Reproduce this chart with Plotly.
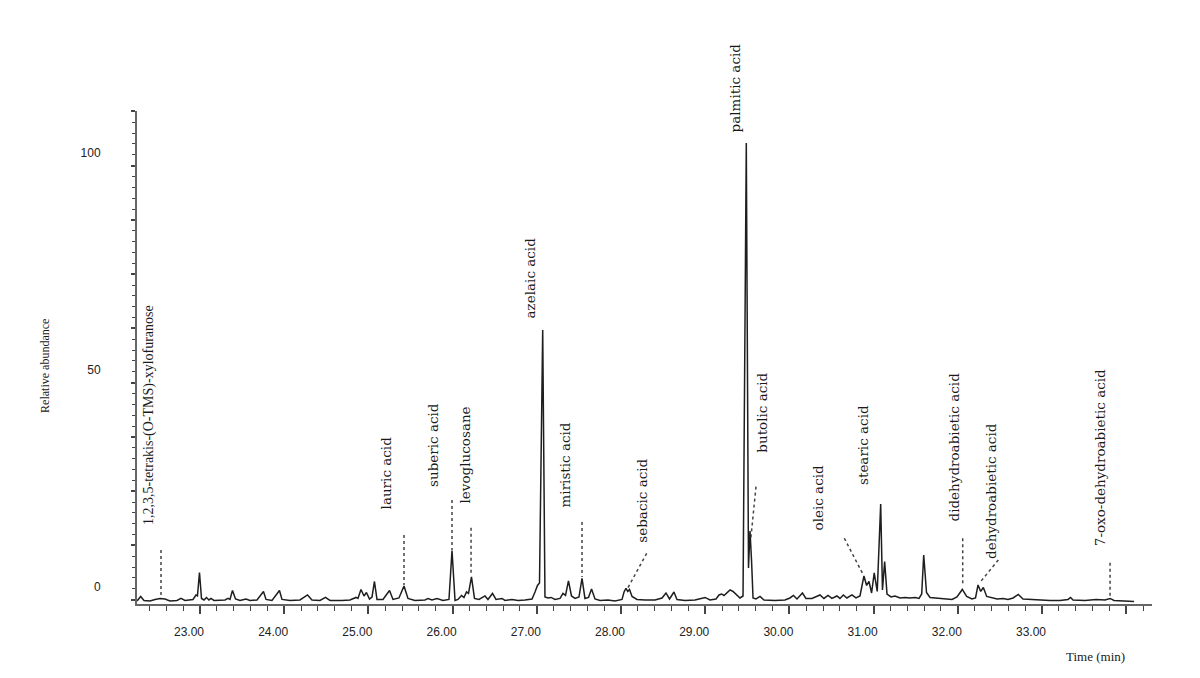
import plotly.graph_objects as go

# Chromatogram trace: retention time (min) and relative abundance
time_min = [22.252, 22.296, 22.335, 22.406, 22.466, 22.525, 22.584, 22.644, 22.727, 22.774,
            22.822, 22.917, 22.952, 22.970, 22.994, 23.018, 23.048, 23.077, 23.107, 23.131,
            23.166, 23.297, 23.333, 23.356, 23.386, 23.422, 23.475, 23.546, 23.594, 23.677,
            23.754, 23.784, 23.855, 23.944, 23.974, 24.069, 24.188, 24.277, 24.330, 24.425,
            24.490, 24.544, 24.686, 24.781, 24.853, 24.876, 24.912, 24.948, 24.977, 25.013,
            25.043, 25.072, 25.102, 25.173, 25.251, 25.292, 25.363, 25.423, 25.470, 25.553,
            25.672, 25.708, 25.755, 25.815, 25.886, 25.957, 25.993, 26.029, 26.064, 26.106,
            26.135, 26.165, 26.189, 26.224, 26.260, 26.313, 26.385, 26.420, 26.474, 26.515,
            26.587, 26.622, 26.706, 26.777, 26.860, 26.943, 26.979, 27.008, 27.032, 27.070,
            27.097, 27.133, 27.169, 27.216, 27.276, 27.311, 27.341, 27.376, 27.412, 27.454,
            27.501, 27.537, 27.572, 27.614, 27.650, 27.691, 27.751, 27.846, 27.929, 28.012,
            28.036, 28.059, 28.080, 28.101, 28.131, 28.190, 28.285, 28.404, 28.487, 28.534,
            28.576, 28.629, 28.665, 28.760, 28.879, 28.998, 29.057, 29.128, 29.164, 29.194,
            29.223, 29.259, 29.295, 29.330, 29.366, 29.413, 29.449, 29.488, 29.514, 29.532,
            29.550, 29.568, 29.603, 29.651, 29.698, 29.829, 29.947, 30.006, 30.048, 30.090,
            30.155, 30.196, 30.268, 30.315, 30.363, 30.410, 30.458, 30.505, 30.564, 30.600,
            30.641, 30.683, 30.743, 30.790, 30.838, 30.885, 30.917, 30.945, 30.976, 31.007,
            31.043, 31.084, 31.105, 31.131, 31.159, 31.207, 31.254, 31.314, 31.373, 31.432,
            31.492, 31.539, 31.571, 31.595, 31.628, 31.670, 31.753, 31.848, 31.931, 31.990,
            32.053, 32.105, 32.168, 32.210, 32.240, 32.272, 32.303, 32.343, 32.406, 32.466,
            32.537, 32.596, 32.656, 32.718, 32.774, 32.857, 32.976, 33.095, 33.214, 33.309,
            33.339, 33.368, 33.511, 33.641, 33.748, 33.808, 33.855, 33.950, 34.093]
abundance = [-0.30, 0.74, -0.18, -0.30, 0.05, 0.28, 0.16, -0.30, -0.20, 0.28,
             -0.20, 0.05, 1.08, 0.85, 6.27, 0.28, -0.07, 0.51, -0.07, 0.28,
             -0.18, -0.07, 0.28, 0.05, 2.12, 0.16, -0.18, 0.16, -0.18, -0.07,
             1.89, 0.05, -0.18, 2.12, 0.05, -0.18, -0.07, 1.08, -0.07, -0.18,
             0.51, -0.18, -0.18, -0.07, 0.51, 0.28, 2.35, 0.85, 1.66, 0.16,
             0.62, 4.19, 0.05, 0.05, 2.12, 0.05, 0.39, 3.16, 0.28, -0.18,
             -0.07, 0.28, -0.07, 0.28, -0.18, 0.05, 11.34, -0.18, 0.05, 0.97,
             0.51, 1.77, 1.43, 5.23, 0.28, 0.05, 0.85, 0.05, 1.43, 0.05,
             0.28, -0.18, 0.05, -0.18, -0.07, 0.16, 1.77, 3.27, 3.85, 62.14,
             0.62, 0.39, 0.51, 0.05, 0.28, 1.43, 0.97, 4.31, 0.85, 0.28,
             0.62, 4.88, 0.28, 0.51, 2.47, 0.16, -0.18, -0.07, -0.30, 0.05,
             1.77, 2.58, 1.89, 2.35, 0.74, 0.05, -0.07, -0.07, 0.39, 1.54,
             0.16, 1.77, 0.05, -0.18, -0.07, 0.51, -0.07, 0.16, 1.08, 1.31,
             0.97, 1.66, 2.24, 1.89, 1.20, 0.39, 0.85, 105.2, 7.30, 15.83,
             9.15, 0.39, 0.16, 0.74, -0.07, -0.18, -0.07, 0.39, 0.97, 0.16,
             1.54, 0.28, 0.28, 0.74, 1.08, 0.28, 0.97, 0.28, 0.85, 0.28,
             1.08, 0.39, 1.08, 0.39, 0.85, 5.46, 3.27, 4.19, 1.54, 6.15,
             1.89, 22.05, 2.24, 8.80, 1.31, 0.62, 0.85, 0.39, 0.51, 0.39,
             0.51, 0.28, 1.31, 10.30, 1.66, 0.51, 0.39, 0.16, 0.05, 0.62,
             2.35, 0.74, 0.16, 0.39, 3.39, 1.89, 2.81, 0.74, 0.39, 0.16,
             0.28, 0.05, 0.39, 1.20, 0.16, 0.05, -0.07, -0.18, -0.18, 0.05,
             0.51, -0.07, -0.18, 0.05, -0.07, 0.28, -0.18, -0.30, -0.41]

# Compound labels: text, label centre time, label foot (abundance units)
compounds = ["1,2,3,5-tetrakis-(O-TMS)-xylofuranose", "lauric acid", "suberic acid",
             "levoglucosane", "azelaic acid", "miristic acid", "sebacic acid",
             "palmitic acid", "butolic acid", "oleic acid", "stearic acid",
             "didehydroabietic acid", "dehydroabietic acid", "7-oxo-dehydroabietic acid"]
label_time = [22.394, 25.209, 25.767, 26.147, 26.919, 27.335, 28.246,
              29.354, 29.671, 30.334, 30.874, 31.955, 32.394, 33.697]
label_foot = [16.75, 20.44, 25.51, 21.82, 64.45, 20.67, 12.60,
              107.1, 33.34, 15.37, 25.97, 17.44, 8.92, 11.91]

# Dotted leaders: (time start, abundance start) -> (time end, abundance end)
leader_t0 = [22.537, 25.423, 25.993, 26.219, 27.537, 28.305, 29.603, 30.652, 32.058, 32.481, 33.808]
leader_y0 = [11.45, 14.91, 22.97, 16.59, 17.90, 10.69, 26.04, 14.15, 14.15, 9.15, 8.53]
leader_t1 = [22.537, 25.423, 25.993, 26.219, 27.537, 28.079, 29.540, 30.878, 32.058, 32.255, 33.808]
leader_y1 = [0.62, 3.39, 11.45, 5.69, 5.23, 2.63, 13.76, 5.69, 3.78, 3.78, 0.32]

# Axis ticks
x_tickvals = [23, 24, 25, 26, 27, 28, 29, 30, 31, 32, 33, 34]
x_ticktext = ["23.00", "24.00", "25.00", "26.00", "27.00", "28.00", "29.00",
              "30.00", "31.00", "32.00", "33.00", ""]
y_tickvals = [0, 12.5, 25, 37.5, 50, 62.5, 75, 87.5, 100, 112.5]
y_ticktext = ["0", "", "", "", "50", "", "", "", "100", ""]

fig = go.Figure()
fig.add_trace(go.Scatter(x=time_min, y=abundance, mode="lines",
                         line=dict(color="#1e1e1e", width=1.5), hoverinfo="skip",
                         showlegend=False))

for t0, y0, t1, y1 in zip(leader_t0, leader_y0, leader_t1, leader_y1):
    fig.add_shape(type="line", xref="x", yref="y", x0=t0, y0=y0, x1=t1, y1=y1,
                  line=dict(color="#444444", width=1.5, dash="dot"))

for i, (name, t, yf) in enumerate(zip(compounds, label_time, label_foot)):
    fam = "Liberation Serif" if i == 0 else "DejaVu Serif"
    size = 14 if i == 0 else 13.5
    fig.add_annotation(x=t, y=yf, xref="x", yref="y", text=name, textangle=-90,
                       showarrow=False, xanchor="center", yanchor="bottom",
                       font=dict(family=fam, size=size, color="#1a1a1a"))

fig.add_annotation(x=-0.0906, y=0.483, xref="paper", yref="paper",
                   xanchor="center", yanchor="middle",
                   text="Relative abundance", textangle=-90, showarrow=False,
                   font=dict(family="Liberation Serif", size=12, color="#1a1a1a"))
fig.add_annotation(x=0.944, y=-0.1075, xref="paper", yref="paper",
                   xanchor="center", yanchor="middle",
                   text="Time (min)", showarrow=False,
                   font=dict(family="Liberation Serif", size=13, color="#1a1a1a"))

fig.update_layout(
    width=1192, height=670,
    margin=dict(l=129, r=48, t=103, b=74, autoexpand=False),
    paper_bgcolor="white", plot_bgcolor="white",
    xaxis=dict(range=[22.252, 34.306], showgrid=False, zeroline=False, automargin=False,
               showline=True, linecolor="#666666", linewidth=2,
               tickmode="array", tickvals=x_tickvals, ticktext=x_ticktext,
               ticks="outside", ticklen=8, tickwidth=1.5, tickcolor="#444444",
               ticklabelshift=-11, ticklabelstandoff=8,
               tickfont=dict(family="Liberation Sans", size=12, color="#222222"),
               minor=dict(dtick=0.2, tick0=23, ticks="outside", ticklen=5,
                          tickwidth=1.2, tickcolor="#444444")),
    yaxis=dict(range=[-1.0, 112.6], showgrid=False, zeroline=False, automargin=False,
               showline=True, linecolor="#666666", linewidth=2,
               tickmode="array", tickvals=y_tickvals, ticktext=y_ticktext,
               ticks="outside", ticklen=4, tickwidth=1.5, tickcolor="#444444",
               ticklabelshift=-13, ticklabelstandoff=28,
               tickfont=dict(family="Liberation Sans", size=12, color="#222222"),
               minor=dict(dtick=2.5, tick0=0, ticks="outside", ticklen=3,
                          tickwidth=1, tickcolor="#444444")),
)

fig.write_html("out.html")
